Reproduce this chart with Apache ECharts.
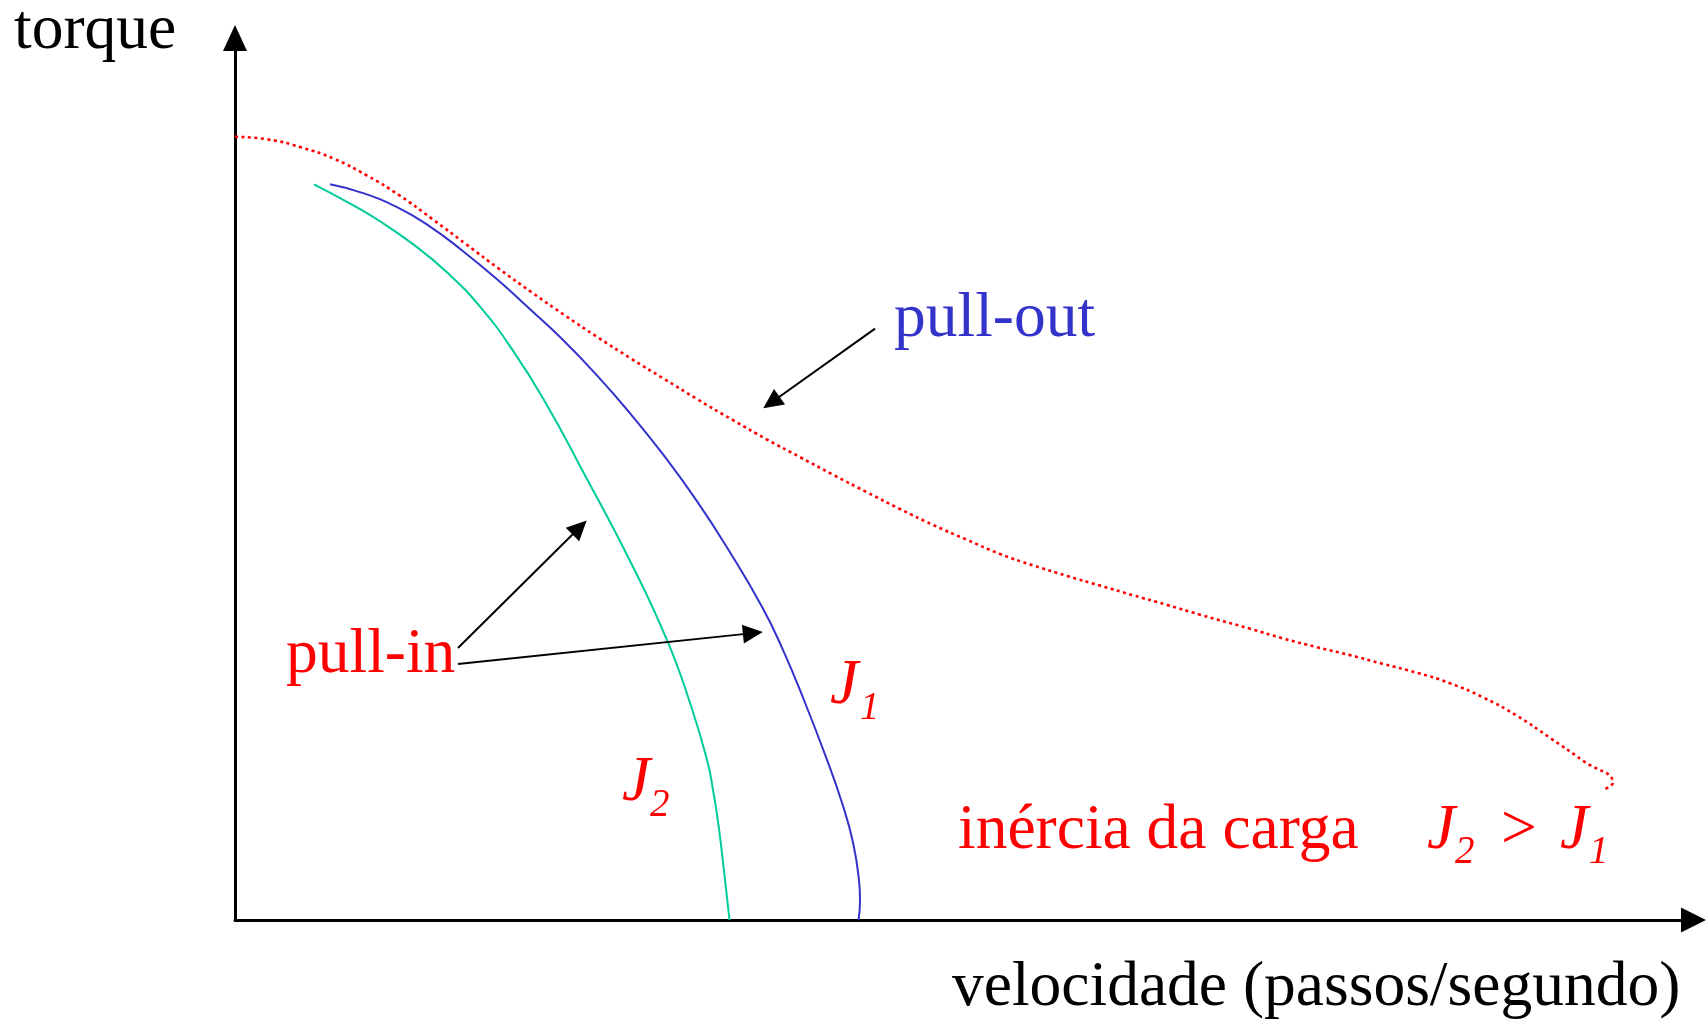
<!DOCTYPE html>
<html>
<head>
<meta charset="utf-8">
<title>torque x velocidade</title>
<script src="https://cdn.jsdelivr.net/npm/echarts@6.0.0/dist/echarts.min.js"></script>
<style>
  html, body { margin: 0; padding: 0; background: #fff; }
  #main { width: 1706px; height: 1020px; }
</style>
</head>
<body>
<div id="main"></div>
<script>
// curva pull-out (torque maximo), velocidade x torque em unidades arbitrarias
var pullOutVel = [0, 22.6, 45.2, 67.8, 90.4, 113.0, 135.6, 158.2, 180.8, 203.4, 226.0, 248.6, 271.2, 293.8, 316.4,
  341.1, 364.4, 387.0, 409.6, 432.9, 455.5, 478.1, 501.4, 524.0, 546.6, 569.9, 592.5, 615.1, 638.4, 661.0,
  695.2, 717.8, 741.1, 763.7, 786.3, 809.6, 832.2, 854.8, 878.1, 900.7, 923.3, 943.8, 937.0];
var pullOutTorque = [89.0, 88.7, 87.8, 86.5, 84.6, 82.3, 79.6, 76.8, 74.0, 71.3, 68.7, 66.2, 63.8, 61.5, 59.2,
  56.8, 54.6, 52.6, 50.6, 48.6, 46.7, 44.9, 43.2, 41.6, 40.3, 39.1, 38.0, 36.9, 35.8, 34.7,
  33.1, 32.0, 31.0, 30.1, 29.1, 28.1, 26.9, 25.3, 23.2, 20.7, 18.1, 15.6, 14.8];

// pull-in com inercia J1
var pullInJ1Vel = [65.1, 87.7, 111.0, 133.6, 156.2, 179.5, 202.1, 224.7, 247.3, 270.5, 293.2, 316.4, 339.0,
  361.6, 375.3, 389.7, 404.8, 415.8, 423.3, 427.4, 428.1, 427.1];
var pullInJ1Torque = [83.6, 82.6, 81.0, 78.8, 76.0, 72.8, 69.4, 65.9, 62.0, 57.6, 52.9, 47.6, 41.8,
  35.4, 30.7, 25.0, 18.5, 13.3, 8.8, 4.5, 2.3, 0];

// pull-in com inercia J2 (J2 > J1)
var pullInJ2Vel = [54.1, 76.7, 99.3, 121.9, 145.2, 167.8, 190.4, 213.7, 236.3, 271.2, 295.9, 311.6, 323.3,
  327.8, 331.3, 335.4, 338.7];
var pullInJ2Torque = [83.6, 81.6, 79.4, 76.8, 73.6, 69.7, 64.7, 58.5, 51.6, 40.6, 31.8, 24.7, 18.2,
  14.4, 10.6, 4.9, 0];

function pares(xs, ys) {
  return xs.map(function (x, i) { return [x, ys[i]]; });
}

var serif = '"Liberation Serif", "Times New Roman", serif';
var fonte = '63.5px ' + serif;
var fonteIt = 'italic 63.5px ' + serif;
var fonteSub = 'italic 39px ' + serif;

// textos com verticalAlign middle (y = meio da linha)
function texto(x, y, t, font, cor) {
  return { type: 'text', x: x, y: y, silent: true,
    style: { text: t, font: font, fill: cor, verticalAlign: 'middle', align: 'left' } };
}

var myChart = echarts.init(document.getElementById('main'), null, { renderer: 'canvas' });

var option = {
  animation: false,
  backgroundColor: '#ffffff',
  grid: { left: 235, bottom: 100, width: 1460, height: 880 },
  xAxis: {
    type: 'value', min: 0, max: 1000,
    axisLine: {
      show: true, symbol: ['none', 'triangle'], symbolSize: [25, 25], symbolOffset: [0, -1.5],
      lineStyle: { color: '#000', width: 3 }
    },
    axisTick: { show: false }, axisLabel: { show: false }, splitLine: { show: false }
  },
  yAxis: {
    type: 'value', min: 0, max: 100,
    axisLine: {
      show: true, symbol: ['none', 'triangle'], symbolSize: [24, 26], symbolOffset: [0, 2],
      lineStyle: { color: '#000', width: 3 }
    },
    axisTick: { show: false }, axisLabel: { show: false }, splitLine: { show: false }
  },
  series: [
    {
      name: 'J2', type: 'line', data: pares(pullInJ2Vel, pullInJ2Torque),
      symbol: 'none', smooth: 0.5,
      lineStyle: { color: '#00cc99', width: 2 }
    },
    {
      name: 'J1', type: 'line', data: pares(pullInJ1Vel, pullInJ1Torque),
      symbol: 'none', smooth: 0.5,
      lineStyle: { color: '#3333cc', width: 2 }
    },
    {
      name: 'pull-out', type: 'line', data: pares(pullOutVel, pullOutTorque),
      symbol: 'none', smooth: 0.5,
      lineStyle: { color: '#ff0000', width: 2.6, type: [3, 3.5] },
      // setas das anotacoes
      markLine: {
        silent: true,
        symbol: ['none', 'triangle'],
        symbolSize: [19, 20],
        label: { show: false },
        lineStyle: { color: '#000', width: 2, type: 'solid' },
        emphasis: { disabled: true },
        data: [
          [{ coord: [438.4, 67.2] }, { coord: [367.4, 58.8] }],
          [{ coord: [152.7, 30.9] }, { coord: [236.0, 44.6] }],
          [{ coord: [152.7, 29.1] }, { coord: [354.7, 32.6] }]
        ]
      }
    }
  ],
  graphic: {
    elements: [
      texto(14, 31, 'torque', fonte, '#000'),
      texto(894, 319, 'pull-out', fonte, '#3333cc'),
      texto(286, 655, 'pull-in', fonte, '#ff0000'),
      texto(830, 686, 'J', fonteIt, '#ff0000'),
      texto(860, 708.5, '1', fonteSub, '#ff0000'),
      texto(622, 783, 'J', fonteIt, '#ff0000'),
      texto(650, 805.5, '2', fonteSub, '#ff0000'),
      texto(958, 831, 'inércia da carga', fonte, '#ff0000'),
      texto(1427, 831, 'J', fonteIt, '#ff0000'),
      texto(1455, 852.5, '2', fonteSub, '#ff0000'),
      texto(1501, 831, '>', fonte, '#ff0000'),
      texto(1560, 831, 'J', fonteIt, '#ff0000'),
      texto(1589, 852.5, '1', fonteSub, '#ff0000'),
      texto(952, 988, 'velocidade (passos/segundo)', fonte, '#000')
    ]
  }
};

myChart.setOption(option);
</script>
</body>
</html>
